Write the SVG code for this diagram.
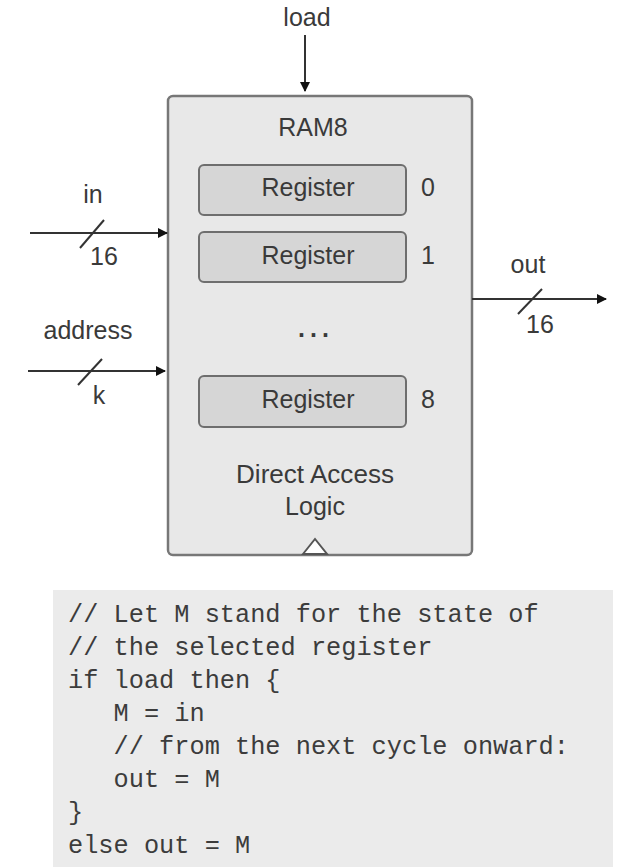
<svg xmlns="http://www.w3.org/2000/svg" width="624" height="867" viewBox="0 0 624 867">
<defs>
<marker id="ah" markerWidth="10" markerHeight="10" refX="9" refY="5" orient="auto" markerUnits="userSpaceOnUse">
<path d="M0,0 L10,5 L0,10 z" fill="#111"/>
</marker>
<style>
.t{font-family:"Liberation Sans",Arial,sans-serif;font-size:25px;fill:#3a3a3a}
.m{font-family:"Liberation Mono","DejaVu Sans Mono",monospace;font-size:25.3px;fill:#3c3c3c;white-space:pre}
.w{stroke:#333;stroke-width:2;fill:none}
.reg{fill:#d6d6d6;stroke:#6e6e6e;stroke-width:2}
</style>
</defs>
<rect width="624" height="867" fill="#fff"/>
<g id="ram8">
<rect x="168" y="96" width="304" height="459" rx="5" fill="#e8e8e8" stroke="#777" stroke-width="2.5"/>
<text class="t" x="313" y="136" text-anchor="middle">RAM8</text>
<text class="t" x="316" y="337" text-anchor="middle" letter-spacing="5" font-weight="bold">...</text>
<text class="t" x="315" y="483" text-anchor="middle" textLength="158" lengthAdjust="spacingAndGlyphs">Direct Access</text>
<text class="t" x="315" y="515" text-anchor="middle">Logic</text>
<path d="M303,554 L315,539 L327,554 z" fill="#fff" stroke="#555" stroke-width="2"/>
</g>
<g id="reg0">
<rect class="reg" x="199" y="165" width="207" height="50" rx="5"/>
<text class="t" x="308" y="196" text-anchor="middle">Register</text>
<text class="t" x="428" y="196" text-anchor="middle">0</text>
</g>
<g id="reg1">
<rect class="reg" x="199" y="232" width="207" height="50" rx="5"/>
<text class="t" x="308" y="264" text-anchor="middle">Register</text>
<text class="t" x="428" y="264" text-anchor="middle">1</text>
</g>
<g id="reg8">
<rect class="reg" x="199" y="376" width="207" height="51" rx="5"/>
<text class="t" x="308" y="408" text-anchor="middle">Register</text>
<text class="t" x="428" y="408" text-anchor="middle">8</text>
</g>
<g id="labels">
<text class="t" x="307" y="26" text-anchor="middle">load</text>
<text class="t" x="93" y="203" text-anchor="middle">in</text>
<text class="t" x="104" y="265" text-anchor="middle">16</text>
<text class="t" x="88" y="339" text-anchor="middle">address</text>
<text class="t" x="99" y="404" text-anchor="middle">k</text>
<text class="t" x="528" y="273" text-anchor="middle">out</text>
<text class="t" x="540" y="333" text-anchor="middle">16</text>
</g>
<g id="connectors">
<line class="w" x1="305" y1="35" x2="305" y2="91" marker-end="url(#ah)"/>
<line class="w" x1="30" y1="233" x2="167" y2="233" marker-end="url(#ah)"/>
<line class="w" x1="80" y1="248" x2="104" y2="220"/>
<line class="w" x1="28" y1="371" x2="165" y2="371" marker-end="url(#ah)"/>
<line class="w" x1="78" y1="385" x2="102" y2="359"/>
<line class="w" x1="472" y1="299" x2="606" y2="299" marker-end="url(#ah)"/>
<line class="w" x1="518" y1="314" x2="542" y2="289"/>
</g>
<g id="code">
<rect x="53" y="590" width="560" height="277" fill="#ebebeb"/>
<text class="m" x="68" y="622">// Let M stand for the state of</text>
<text class="m" x="68" y="655">// the selected register</text>
<text class="m" x="68" y="688">if load then {</text>
<text class="m" x="68" y="721">   M = in</text>
<text class="m" x="68" y="754">   // from the next cycle onward:</text>
<text class="m" x="68" y="787">   out = M</text>
<text class="m" x="68" y="820">}</text>
<text class="m" x="68" y="853">else out = M</text>
</g>
</svg>
